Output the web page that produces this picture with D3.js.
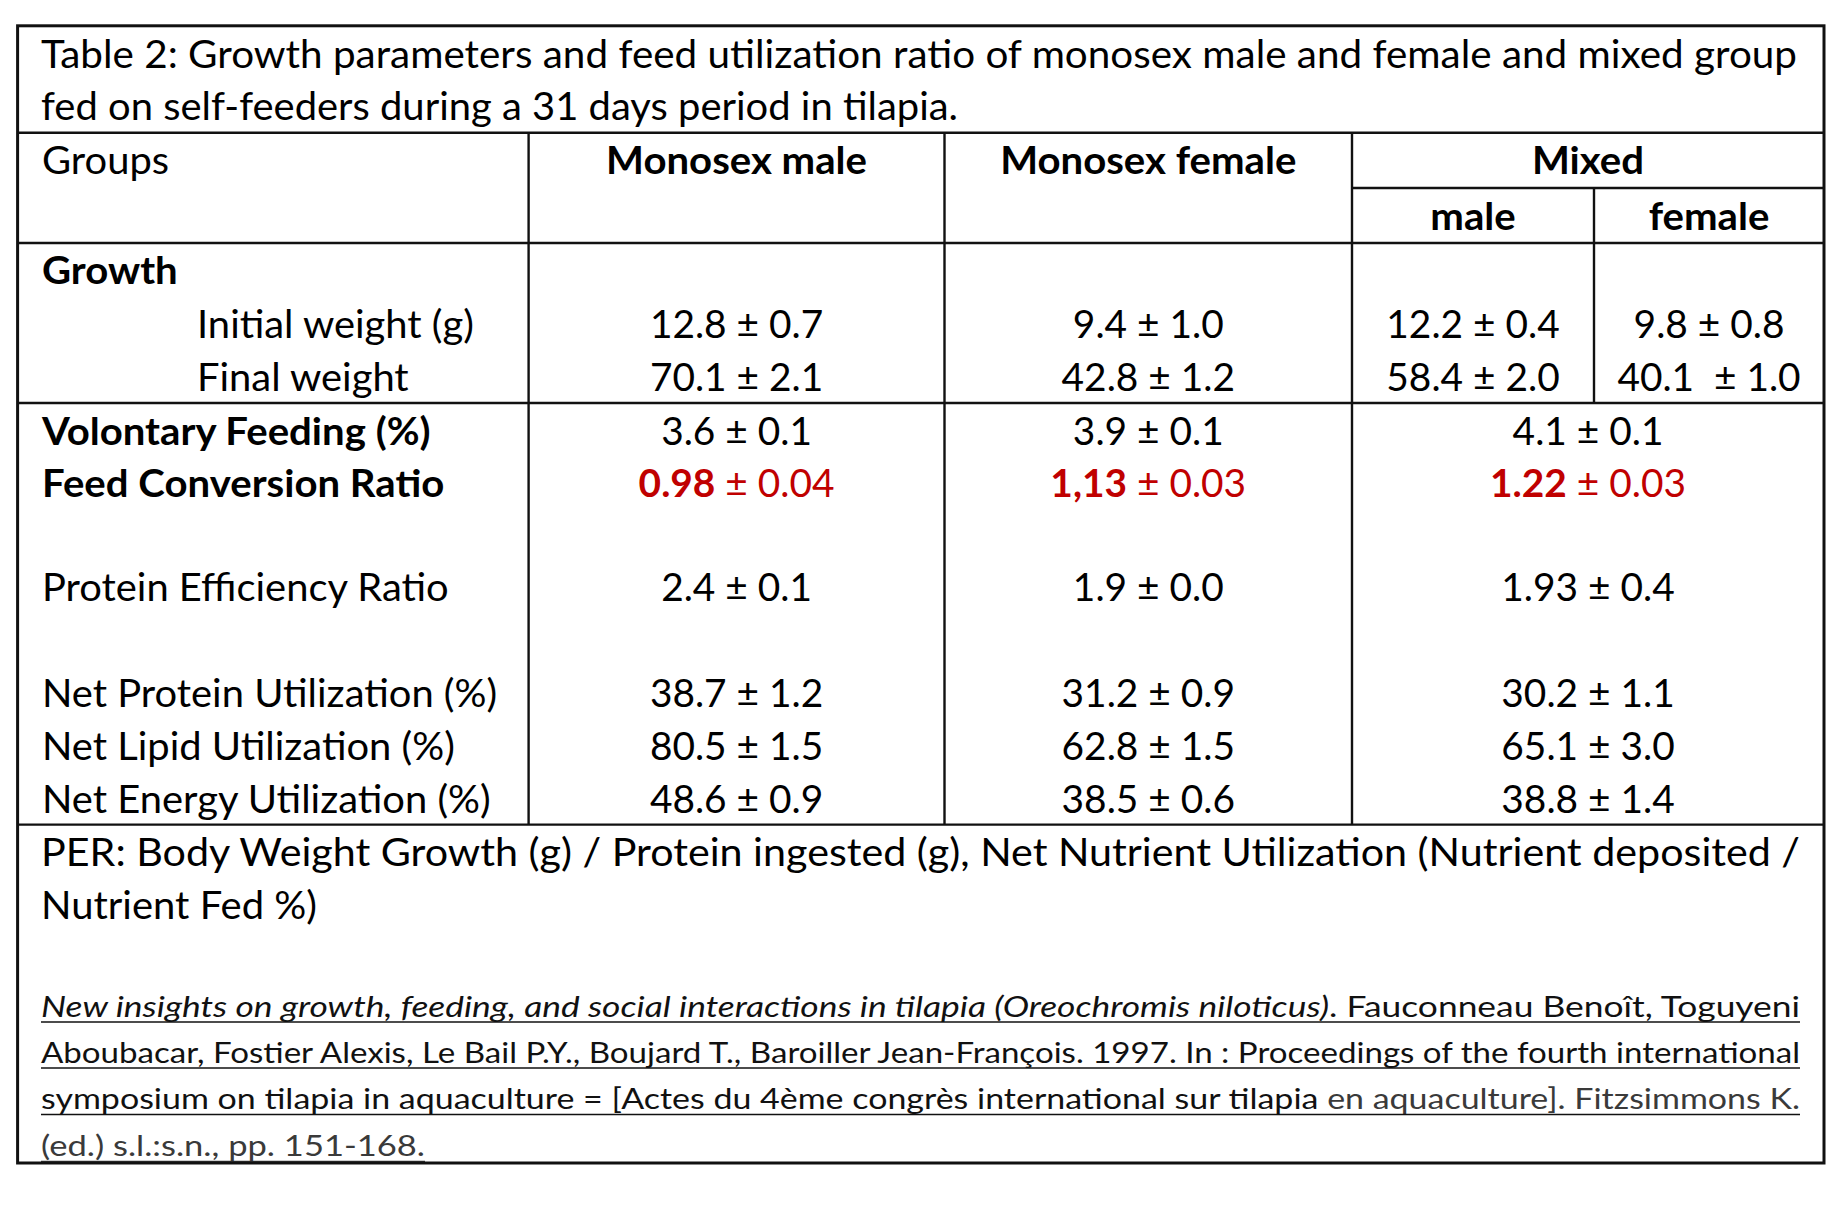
<!DOCTYPE html>
<html><head><meta charset="utf-8">
<script src="https://cdn.jsdelivr.net/npm/d3@7"></script>
<style>body{margin:0;background:#fff}svg text{white-space:pre}</style>
</head><body><svg id="c" width="1842" height="1220"></svg>
<script>
// ---------- data ----------
const titleLines = [
  "Table 2: Growth parameters and feed utilization ratio of monosex male and female and mixed group",
  "fed on self-feeders during a 31 days period in tilapia."
];
const groups = ["Monosex male", "Monosex female", "Mixed"];
const mixedSub = ["male", "female"];
const growthTitle = "Growth";
const growthLabels = ["Initial weight (g)", "Final weight"];
const growthMeans = [["12.8", "9.4", "12.2", "9.8"], ["70.1", "42.8", "58.4", "40.1\u00A0"]];
const growthSDs = [["0.7", "1.0", "0.4", "0.8"], ["2.1", "1.2", "2.0", "1.0"]];
const ratioLabels = ["Volontary Feeding (%)", "Feed Conversion Ratio", "Protein Efficiency Ratio",
  "Net Protein Utilization (%)", "Net Lipid Utilization (%)", "Net Energy Utilization (%)"];
const ratioBold = [true, true, false, false, false, false];
const ratioMeans = [["3.6", "3.9", "4.1"], ["0.98", "1,13", "1.22"], ["2.4", "1.9", "1.93"],
  ["38.7", "31.2", "30.2"], ["80.5", "62.8", "65.1"], ["48.6", "38.5", "38.8"]];
const ratioSDs = [["0.1", "0.1", "0.1"], ["0.04", "0.03", "0.03"], ["0.1", "0.0", "0.4"],
  ["1.2", "0.9", "1.1"], ["1.5", "1.5", "3.0"], ["0.9", "0.6", "1.4"]];
const highlightRow = 1;
const footnoteLines = [
  "PER: Body Weight Growth (g) / Protein ingested (g), Net Nutrient Utilization (Nutrient deposited /",
  "Nutrient Fed %)"
];
const citationLines = [
  [{t: "New insights on growth, feeding, and social interactions in tilapia (Oreochromis niloticus)", i: true}, {t: ". Fauconneau Benoît, Toguyeni"}],
  [{t: "Aboubacar, Fostier Alexis, Le Bail P.Y., Boujard T., Baroiller Jean-François. 1997. In : Proceedings of the fourth international"}],
  [{t: "symposium on tilapia in aquaculture = [Actes du 4ème congrès international sur tilapia "}, {t: "en aquaculture]. Fitzsimmons K.", light: true}],
  [{t: "(ed.) s.l.:s.n., pp. 151-168.", light: true}]
];

// ---------- layout ----------
const L = {
  left: 17.6, right: 1824, top: 25.8, titleBottom: 132.7, mixedMid: 188, headBottom: 243,
  growthBottom: 403, dataBottom: 824.6, bottom: 1163,
  colEdges: [17.6, 528.6, 944.5, 1352, 1594, 1824],
  labelX: 42, indentX: 197,
  titleY: [67.5, 119.5], titleW: [1756, 917],
  footW: [1759, 276], citeY: [1016.5, 1062.5, 1109, 1156], citeW: [1759, 1759, 1759, 384],
  fs: 38, citeFs: 29, refWidth: 402,
  lineIdx: [0, 1, 2, 5, 6, 8, 14], lineY: [174, 229.5, 284, 445, 497, 600.5, 919]
};
const FONT = "Lato, 'Open Sans', sans-serif";
const RED = "#C00000";

const svg = d3.select("#c");
svg.append("rect").attr("width", 1842).attr("height", 1220).attr("fill", "#fff");

// row baselines by line index
const yLine = d3.scaleLinear().domain(L.lineIdx).range(L.lineY);
const growthLine = [3, 4];
const ratioLine = [5, 6, 8, 10, 11, 12];

// column centers
const E = L.colEdges;
const xCol = d3.scaleOrdinal()
  .domain(["mm", "mf", "mix", "mixM", "mixF"])
  .range([(E[1] + E[2]) / 2, (E[2] + E[3]) / 2, (E[3] + E[5]) / 2, (E[3] + E[4]) / 2, (E[4] + E[5]) / 2]);

// horizontal compression factor to mimic condensed Calibri
const probe = svg.append("text").attr("font-family", FONT).attr("font-size", L.fs).text(ratioLabels[2]);
const SX = L.refWidth / probe.node().getComputedTextLength();
probe.remove();
const SX_LABEL = SX * 1.012, SX_NUM = SX * 0.985, SX_BOLD = SX * 1.018;

const gText = svg.append("g").attr("font-family", FONT).attr("font-size", L.fs).attr("fill", "#000");
function cell(x, y, anchor, sx) {
  return gText.append("text").attr("transform", `translate(${x},${y}) scale(${sx},1)`).attr("text-anchor", anchor);
}

// title
titleLines.forEach((s, i) => {
  gText.append("text").attr("x", L.labelX - 1).attr("y", L.titleY[i])
    .attr("textLength", L.titleW[i]).attr("lengthAdjust", "spacingAndGlyphs").text(s);
});

// header
cell(L.labelX, yLine(0), "start", SX_LABEL).text("Groups");
["mm", "mf", "mix"].forEach((k, i) => cell(xCol(k), yLine(0), "middle", SX_BOLD).attr("font-weight", 700).text(groups[i]));
["mixM", "mixF"].forEach((k, i) => cell(xCol(k), yLine(1), "middle", SX_BOLD).attr("font-weight", 700).text(mixedSub[i]));

// growth
cell(L.labelX, yLine(2), "start", SX_BOLD).attr("font-weight", 700).text(growthTitle);
growthLabels.forEach((lab, r) => {
  cell(L.indentX, yLine(growthLine[r]), "start", SX_LABEL).text(lab);
  ["mm", "mf", "mixM", "mixF"].forEach((k, c) => {
    cell(xCol(k), yLine(growthLine[r]), "middle", SX_NUM).text(growthMeans[r][c] + " ± " + growthSDs[r][c]);
  });
});

// ratios
ratioLabels.forEach((lab, r) => {
  const y = yLine(ratioLine[r]);
  cell(L.labelX, y, "start", ratioBold[r] ? SX_BOLD : SX_LABEL).attr("font-weight", ratioBold[r] ? 700 : 400).text(lab);
  ["mm", "mf", "mix"].forEach((k, c) => {
    const t = cell(xCol(k), y, "middle", SX_NUM);
    if (r === highlightRow) {
      t.attr("fill", RED);
      t.append("tspan").attr("font-weight", 700).text(ratioMeans[r][c]);
      t.append("tspan").text(" ± " + ratioSDs[r][c]);
    } else {
      t.text(ratioMeans[r][c] + " ± " + ratioSDs[r][c]);
    }
  });
});

// footnote
footnoteLines.forEach((s, i) => {
  gText.append("text").attr("x", L.labelX - 1).attr("y", yLine(13 + i))
    .attr("textLength", L.footW[i]).attr("lengthAdjust", "spacingAndGlyphs").text(s);
});

// citation
const gCite = svg.append("g").attr("font-family", FONT).attr("font-size", L.citeFs).attr("fill", "#111");
citationLines.forEach((segs, i) => {
  const t = gCite.append("text").attr("x", L.labelX - 1).attr("y", L.citeY[i])
    .attr("textLength", L.citeW[i]).attr("lengthAdjust", "spacingAndGlyphs");
  segs.forEach(s => {
    const sp = t.append("tspan").text(s.t);
    if (s.i) sp.attr("font-style", "italic");
    if (s.light) sp.attr("fill", "#3a3a3a");
  });
  gCite.append("line").attr("x1", L.labelX - 1).attr("x2", L.labelX - 1 + L.citeW[i])
    .attr("y1", L.citeY[i] + 5.5).attr("y2", L.citeY[i] + 5.5)
    .attr("stroke", i === 3 ? "#3a3a3a" : "#111").attr("stroke-width", 1.6);
});

// ---------- grid lines ----------
const gLines = svg.append("g").attr("stroke", "#111").attr("stroke-width", 2.4).attr("fill", "none");
[L.titleBottom, L.headBottom, L.growthBottom, L.dataBottom].forEach(y =>
  gLines.append("line").attr("x1", L.left).attr("x2", L.right).attr("y1", y).attr("y2", y));
gLines.append("line").attr("x1", E[3]).attr("x2", L.right).attr("y1", L.mixedMid).attr("y2", L.mixedMid);
[E[1], E[2], E[3]].forEach(x =>
  gLines.append("line").attr("x1", x).attr("x2", x).attr("y1", L.titleBottom).attr("y2", L.dataBottom));
gLines.append("line").attr("x1", E[4]).attr("x2", E[4]).attr("y1", L.mixedMid).attr("y2", L.growthBottom);
// outer border with faint shadow
svg.append("rect").attr("x", L.left + 1.5).attr("y", L.top + 1.5).attr("width", L.right - L.left).attr("height", L.bottom - L.top)
  .attr("fill", "none").attr("stroke", "#ccc").attr("stroke-width", 2).lower();
svg.select("rect").lower();
svg.append("rect").attr("x", L.left).attr("y", L.top).attr("width", L.right - L.left).attr("height", L.bottom - L.top)
  .attr("fill", "none").attr("stroke", "#111").attr("stroke-width", 3);
</script></body></html>
